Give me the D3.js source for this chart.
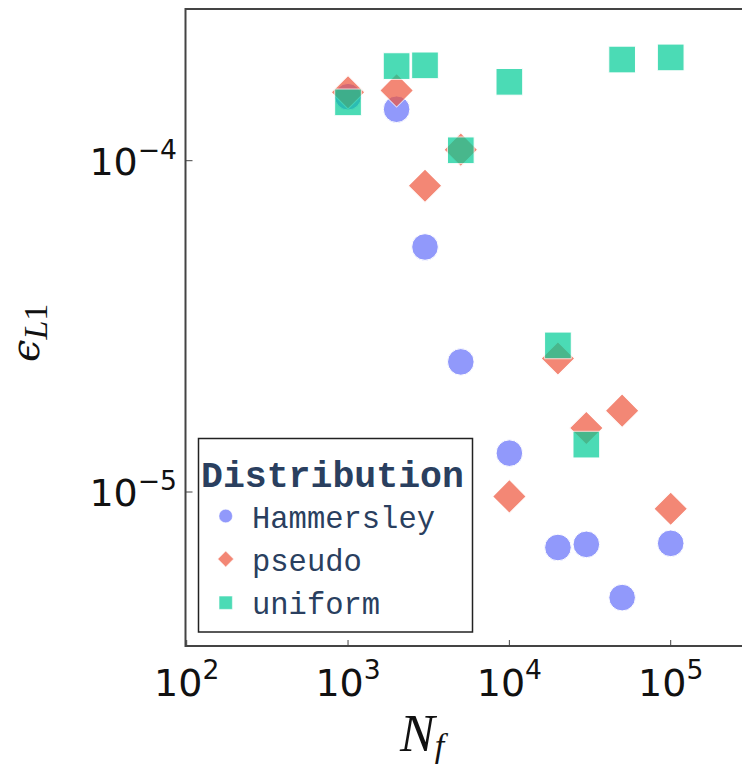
<!DOCTYPE html>
<html>
<head>
<meta charset="utf-8">
<script src="https://cdn.jsdelivr.net/npm/d3@7"></script>
<style>
  html, body { margin: 0; padding: 0; background: #fff; }
  svg { display: block; }
</style>
</head>
<body>
<svg id="chart" width="742" height="767"></svg>
<script>
// Number of collocation points N_f
const nf = [1000, 2000, 3000, 5000, 10000, 20000, 30000, 50000, 100000];
// L1 error per point distribution
const hammersley = [1.56e-4, 1.43e-4, 5.49e-5, 2.47e-5, 1.31e-5, 6.8e-6, 6.95e-6, 4.8e-6, 7.0e-6];
const pseudo     = [1.61e-4, 1.63e-4, 8.4e-5, 1.08e-4, 9.7e-6, 2.53e-5, 1.56e-5, 1.76e-5, 8.9e-6];
const uniform    = [1.50e-4, 1.93e-4, 1.94e-4, 1.075e-4, 1.73e-4, 2.77e-5, 1.39e-5, 2.02e-4, 2.05e-4];

const seriesNames = ["Hammersley", "pseudo", "uniform"];
const xTickValues = [100, 1000, 10000, 100000];
const xTickExps = ["2", "3", "4", "5"];
const yTickValues = [1e-4, 1e-5];
const yTickExps = ["\u22124", "\u22125"];

const svg = d3.select("#chart");

const plot = { left: 185.5, top: 9, bottom: 646, right: 745 };

const x = d3.scaleLog().domain([100, 1e5]).range([186.7, 670.7]);
const y = d3.scaleLog().domain([1e-5, 1e-4]).range([492, 160.7]);

const colors = ["#636efa", "#EF553B", "#00cc96"];
const shapes = [d3.symbolCircle, d3.symbolSquare, d3.symbolSquare];
const rotations = [0, 45, 0];
const sizes = [Math.PI * 13.3 * 13.3, 23.7 * 23.7, 26.7 * 26.7];
const legendSizes = [Math.PI * 6.8 * 6.8, 11.2 * 11.2, 13.3 * 13.3];

const series = [hammersley, pseudo, uniform].map((vals, i) => ({
  name: seriesNames[i],
  points: nf.map((n, j) => ({ n, v: vals[j] }))
}));

// Frame lines
const axisColor = "#444";
svg.append("line").attr("x1", plot.left).attr("x2", plot.right)
  .attr("y1", plot.top).attr("y2", plot.top)
  .attr("stroke", axisColor).attr("stroke-width", 2);
svg.append("line").attr("x1", plot.left).attr("x2", plot.right)
  .attr("y1", plot.bottom).attr("y2", plot.bottom)
  .attr("stroke", axisColor).attr("stroke-width", 2);
svg.append("line").attr("x1", plot.left).attr("x2", plot.left)
  .attr("y1", plot.top - 1).attr("y2", plot.bottom + 1)
  .attr("stroke", axisColor).attr("stroke-width", 2);

// Inward ticks
svg.append("g").selectAll("line").data(xTickValues).join("line")
  .attr("x1", d => x(d)).attr("x2", d => x(d))
  .attr("y1", plot.bottom).attr("y2", plot.bottom - 6)
  .attr("stroke", axisColor).attr("stroke-width", 1);
svg.append("g").selectAll("line").data(yTickValues).join("line")
  .attr("x1", plot.left).attr("x2", plot.left + 7)
  .attr("y1", d => y(d)).attr("y2", d => y(d))
  .attr("stroke", axisColor).attr("stroke-width", 1);

// Tick labels
const tickFont = "'DejaVu Sans', Verdana, sans-serif";
const xl = svg.append("g").selectAll("text").data(xTickValues).join("text")
  .attr("x", d => x(d)).attr("y", 696)
  .attr("text-anchor", "middle")
  .attr("font-family", tickFont).attr("font-size", 38).attr("fill", "#111");
xl.append("tspan").text("10");
xl.append("tspan").attr("dy", -17).attr("font-size", 26.6).text((d, i) => xTickExps[i]);

const yl = svg.append("g").selectAll("text").data(yTickValues).join("text")
  .attr("x", 177).attr("y", d => y(d) + 14)
  .attr("text-anchor", "end")
  .attr("font-family", tickFont).attr("font-size", 38).attr("fill", "#111");
yl.append("tspan").text("10");
yl.append("tspan").attr("dy", -16).attr("font-size", 26.6).text((d, i) => yTickExps[i]);

// Axis titles (math style)
const mathFont = "'Liberation Serif', 'DejaVu Serif', serif";
const xt = svg.append("text").attr("x", 400).attr("y", 751)
  .attr("font-family", mathFont).attr("font-style", "italic")
  .attr("font-size", 52).attr("fill", "#111");
xt.append("tspan").text("N");
xt.append("tspan").attr("dy", 6).attr("font-size", 34).text("f");

const yt = svg.append("text")
  .attr("transform", "translate(39,362) rotate(-90)")
  .attr("font-family", mathFont).attr("font-size", 36).attr("fill", "#111");
yt.append("tspan").attr("font-family", "'DejaVu Serif', serif").attr("font-style", "italic").attr("font-size", 40).text("\u03F5");
yt.append("tspan").attr("dy", 8).attr("font-size", 34).attr("font-style", "italic").text("L");
yt.append("tspan").attr("font-size", 34).text("1");

// Markers
const symbolPath = (i, area) => d3.symbol().type(shapes[i]).size(area)();
const marks = svg.append("g");
series.forEach((s, i) => {
  marks.append("g").selectAll("path").data(s.points).join("path")
    .attr("d", symbolPath(i, sizes[i]))
    .attr("transform", d => `translate(${x(d.n)},${y(d.v)}) rotate(${rotations[i]})`)
    .attr("fill", colors[i])
    .attr("stroke", "#fff").attr("stroke-width", 1)
    .attr("opacity", 0.7);
});

// Legend
const lg = svg.append("g");
lg.append("rect").attr("x", 198.5).attr("y", 438.5).attr("width", 274).attr("height", 193.5)
  .attr("fill", "#fff").attr("stroke", "#222").attr("stroke-width", 1.5);
lg.append("text").attr("x", 201).attr("y", 487)
  .attr("font-family", "'Liberation Mono', 'Courier New', monospace")
  .attr("font-weight", "bold").attr("font-size", 36.5).attr("fill", "#2a3f5f")
  .text("Distribution");
const itemY = [516, 559, 602.7];
const baseY = [528, 571, 614];
seriesNames.forEach((name, i) => {
  lg.append("path")
    .attr("d", symbolPath(i, legendSizes[i]))
    .attr("transform", `translate(225.7,${itemY[i]}) rotate(${rotations[i]})`)
    .attr("fill", colors[i]).attr("stroke", "#fff").attr("stroke-width", 0.5)
    .attr("opacity", 0.7);
  lg.append("text").attr("x", 252).attr("y", baseY[i])
    .attr("font-family", "'Liberation Mono', 'Courier New', monospace")
    .attr("font-size", 30.5).attr("fill", "#2a3f5f")
    .text(name);
});
</script>
</body>
</html>
